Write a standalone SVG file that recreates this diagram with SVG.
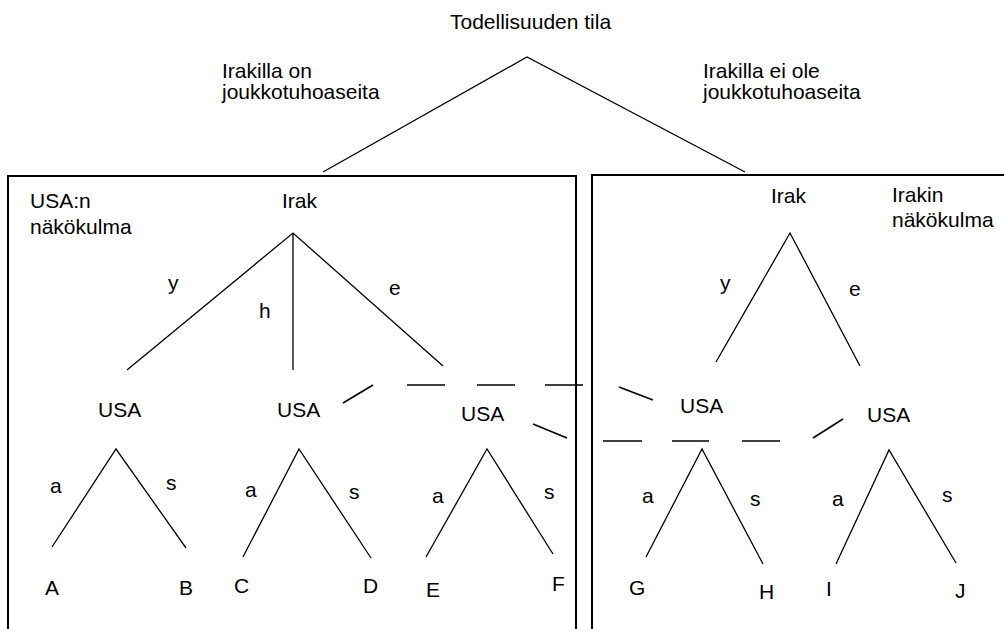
<svg xmlns="http://www.w3.org/2000/svg" width="1004" height="629" viewBox="0 0 1004 629">
<style>
text{font-family:"Liberation Sans",Arial,sans-serif;font-size:21px;fill:#000}
.e{stroke:#000;stroke-width:1.3;fill:none}
.d{stroke:#000;stroke-width:1.6;fill:none}
.box{stroke:#000;stroke-width:2;fill:none}
</style>
<rect width="1004" height="629" fill="#fff"/>
<g id="box-usa"><path class="box" d="M8,640V176H576V640"/><text x="30" y="208">USA:n</text><text x="30" y="234">näkökulma</text></g>
<g id="box-irak"><path class="box" d="M592,640V175H1010"/><text x="892" y="202">Irakin</text><text x="892" y="227">näkökulma</text></g>
<g id="root"><text x="450" y="29">Todellisuuden tila</text></g>
<g id="irak1"><text x="282" y="208">Irak</text></g>
<g id="irak2"><text x="771" y="203">Irak</text></g>
<g id="usa1"><text x="98" y="417">USA</text></g>
<g id="usa2"><text x="277" y="417">USA</text></g>
<g id="usa3"><text x="461" y="421">USA</text></g>
<g id="usa4"><text x="680" y="413">USA</text></g>
<g id="usa5"><text x="867" y="422">USA</text></g>
<g id="leafA"><text x="45" y="595">A</text></g>
<g id="leafB"><text x="179" y="595">B</text></g>
<g id="leafC"><text x="234" y="593">C</text></g>
<g id="leafD"><text x="363" y="593">D</text></g>
<g id="leafE"><text x="426" y="597">E</text></g>
<g id="leafF"><text x="552" y="591">F</text></g>
<g id="leafG"><text x="629" y="595">G</text></g>
<g id="leafH"><text x="759" y="599">H</text></g>
<g id="leafI"><text x="826" y="596">I</text></g>
<g id="leafJ"><text x="955" y="598">J</text></g>
<g id="connectors">
<path class="e" d="M323,172L527,57L745,172"/>
<path class="e" d="M127,370L293,233L443,366M293,233V370"/>
<path class="e" d="M716,362L790,233L860,366"/>
<path class="e" d="M52,547L116,449L186,548"/>
<path class="e" d="M243,557L299,449L371,558"/>
<path class="e" d="M426,557L487,449L553,554"/>
<path class="e" d="M646,557L702,449L763,564"/>
<path class="e" d="M836,564L889,450L956,563"/>
<g class="d">
<line x1="343" y1="403" x2="373" y2="385"/>
<line x1="407" y1="385" x2="445" y2="385"/>
<line x1="477" y1="385" x2="515" y2="385"/>
<line x1="545" y1="385" x2="583" y2="385"/>
<line x1="619" y1="387" x2="653" y2="400"/>
<line x1="533" y1="424" x2="567" y2="438"/>
<line x1="603" y1="441" x2="642" y2="441"/>
<line x1="672" y1="441" x2="709" y2="441"/>
<line x1="742" y1="441" x2="780" y2="441"/>
<line x1="813" y1="438" x2="843" y2="419"/>
</g>
<text x="222" y="78">Irakilla on</text><text x="222" y="99">joukkotuhoaseita</text>
<text x="703" y="78">Irakilla ei ole</text><text x="703" y="99">joukkotuhoaseita</text>
<text x="168" y="290">y</text><text x="259" y="318">h</text><text x="389" y="295">e</text>
<text x="720" y="290">y</text><text x="849" y="296">e</text>
<text x="50" y="493">a</text><text x="166" y="490">s</text>
<text x="245" y="497">a</text><text x="349" y="499">s</text>
<text x="432" y="503">a</text><text x="544" y="499">s</text>
<text x="642" y="503">a</text><text x="750" y="506">s</text>
<text x="832" y="506">a</text><text x="942" y="502">s</text>
</g>
</svg>
